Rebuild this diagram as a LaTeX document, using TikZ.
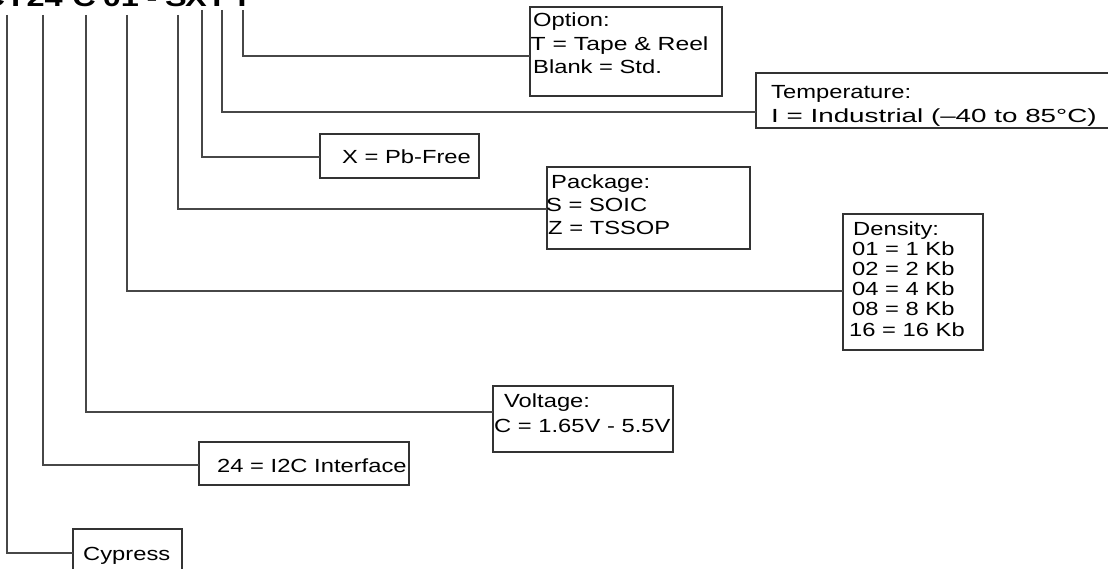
\documentclass[tikz,border=0pt]{standalone}
\usepackage{fontspec}
\setmainfont{Liberation Sans}[FakeStretch=1.25]
\begin{document}
\begin{tikzpicture}[x=1pt,y=-1pt,
  box/.style={draw=black!80,line width=1.1pt,inner sep=0pt,outer sep=0pt},
  conn/.style={draw=black!72,line width=1.1pt},
  lbl/.style={anchor=base west,inner sep=0pt,font=\fontsize{19}{20}\selectfont},
  hdr/.style={anchor=base,inner sep=0pt,font=\bfseries\fontsize{26}{28}\selectfont}]
\useasboundingbox (0,0) rectangle (1108,569);
\clip (0,0) rectangle (1108,569);
% header (cut off at the top)
\node[hdr,anchor=base east] (hCY) at (63,6.5) {CY24};
\node[hdr] (hC) at (84,6.5) {C};
\node[hdr] (h01) at (121,6.5) {01};
\node[hdr] (hdash) at (152,6.5) {-};
\node[hdr] (hS) at (176,6.5) {S};
\node[hdr] (hX) at (196,6.5) {X};
\node[hdr] (hI) at (217,6.5) {I};
\node[hdr] (hT) at (242,6.5) {T};
% connector tops
\coordinate (cCY) at (7,15);
\coordinate (c24) at (43,15);
\coordinate (cC) at (86,15);
\coordinate (c01) at (127,15);
\coordinate (cS) at (178,15);
\coordinate (cX) at (202,10);
\coordinate (cI) at (222,10);
\coordinate (cT) at (243,10);
% boxes
\node[box,minimum width=192pt,minimum height=89pt] (opt) at (626,51.5) {};
\node[box,minimum width=359pt,minimum height=55pt] (temp) at (935.5,100.5) {};
\node[box,minimum width=159pt,minimum height=44pt] (pb) at (399.5,156) {};
\node[box,minimum width=203pt,minimum height=82pt] (pkg) at (648.5,208) {};
\node[box,minimum width=140pt,minimum height=136pt] (den) at (913,282) {};
\node[box,minimum width=180pt,minimum height=66pt] (volt) at (583,419) {};
\node[box,minimum width=210pt,minimum height=43pt] (i2c) at (304,463.5) {};
\node[box,minimum width=109pt,minimum height=51pt] (cyp) at (127.5,554.5) {};
% texts
\node[lbl] (t1a) at (533,27) {Option:};
\node[lbl] (t1b) at (530.5,51) {\scalebox{1.04}[1]{T = Tape \& Reel}};
\node[lbl] (t1c) at (533,74) {Blank = Std.};
\node[lbl] (t2a) at (771,99) {Temperature:};
\node[lbl] (t2b) at (771,123) {\scalebox{1.17}[1]{I = Industrial (–40 to 85°C)}};
\node[lbl] (t3) at (342,164) {X = Pb-Free};
\node[lbl] (t4a) at (551,189) {Package:};
\node[lbl] (t4b) at (546,212) {S = SOIC};
\node[lbl] (t4c) at (548,235) {Z = TSSOP};
\node[lbl] (t5a) at (853,236) {Density:};
\node[lbl] (t5b) at (852,256) {01 = 1 Kb};
\node[lbl] (t5c) at (852,276) {02 = 2 Kb};
\node[lbl] (t5d) at (852,296) {04 = 4 Kb};
\node[lbl] (t5e) at (852,316) {08 = 8 Kb};
\node[lbl] (t5f) at (849,336) {16 = 16 Kb};
\node[lbl] (t6a) at (504,407) {Voltage:};
\node[lbl] (t6b) at (494,432) {C = 1.65V - 5.5V};
\node[lbl] (t7) at (217,472) {24 = I2C Interface};
\node[lbl] (t8) at (83,560) {Cypress};
% connectors
\draw[conn] (cT) |- (opt.west |- 0,56);
\draw[conn] (cI) |- (temp.west |- 0,112);
\draw[conn] (cX) |- (pb.west |- 0,157);
\draw[conn] (cS) |- (pkg.west |- 0,209);
\draw[conn] (c01) |- (den.west |- 0,291);
\draw[conn] (cC) |- (volt.west |- 0,412);
\draw[conn] (c24) |- (i2c.west |- 0,465);
\draw[conn] (cCY) |- (cyp.west |- 0,553);
\end{tikzpicture}
\end{document}
